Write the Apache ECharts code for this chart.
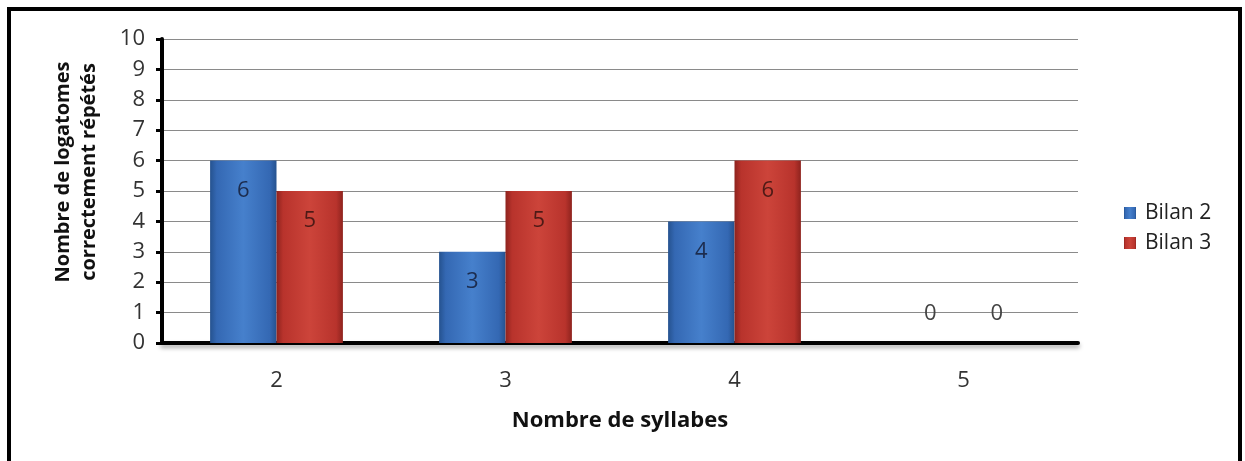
<!DOCTYPE html>
<html>
<head>
<meta charset="utf-8">
<script src="https://cdn.jsdelivr.net/npm/echarts@6/dist/echarts.min.js"></script>
<style>
  html, body { margin: 0; padding: 0; background: #fff; }
  #chart { width: 1245px; height: 461px; }
</style>
</head>
<body>
<div id="chart"></div>
<script>
// données du graphique
var categories = ['2', '3', '4', '5'];
var bilan2 = [6, 3, 4, 0];
var bilan3 = [5, 5, 6, 0];
var seriesNames = ['Bilan 2', 'Bilan 3'];
var yTicks = { min: 0, max: 10, interval: 1 };

var FONT = '"Open Sans", "Noto Sans", sans-serif';

// barre avec un léger effet de biseau
function barColor(dark, mid, light) {
  return new echarts.graphic.LinearGradient(0, 0, 1, 0, [
    { offset: 0, color: dark },
    { offset: 0.1, color: mid },
    { offset: 0.5, color: light },
    { offset: 0.9, color: mid },
    { offset: 1, color: dark }
  ]);
}

// les valeurs nulles ont leur étiquette au-dessus de l'axe
function toData(values) {
  return values.map(function (v) {
    if (v === 0) {
      return { value: v, label: { position: 'top', distance: 18, color: '#444' } };
    }
    return v;
  });
}

var chart = echarts.init(document.getElementById('chart'));

var option = {
  backgroundColor: '#fff',
  animation: false,
  textStyle: { fontFamily: FONT },
  graphic: [{
    type: 'rect',
    shape: { x: 9, y: 9, width: 1231, height: 470 },
    style: { fill: 'none', stroke: '#000', lineWidth: 4 },
    z: 100
  }],
  grid: { left: 162, right: 167, top: 39, bottom: 118 },
  legend: {
    orient: 'vertical',
    left: 1119,
    top: 195,
    itemGap: 4,
    itemWidth: 12,
    itemHeight: 12,
    icon: 'rect',
    textStyle: { fontFamily: FONT, fontSize: 21, color: '#222', lineHeight: 26, padding: [0, 0, 0, 4] },
    data: seriesNames
  },
  xAxis: {
    type: 'category',
    data: categories,
    name: 'Nombre de syllabes',
    nameLocation: 'middle',
    nameGap: 67,
    nameTextStyle: { fontFamily: FONT, fontSize: 22, fontWeight: 'bold', color: '#111' },
    axisLine: {
      lineStyle: { color: '#000', width: 4, shadowColor: 'rgba(0,0,0,0.35)', shadowBlur: 4, shadowOffsetY: 3 }
    },
    axisTick: { show: false },
    axisLabel: { margin: 27, fontSize: 22, color: '#333', fontFamily: FONT }
  },
  yAxis: {
    type: 'value',
    min: yTicks.min,
    max: yTicks.max,
    interval: yTicks.interval,
    name: 'Nombre de logatomes\ncorrectement répétés',
    nameLocation: 'middle',
    nameGap: 60,
    nameTextStyle: {
      fontFamily: FONT, fontSize: 20, fontWeight: 'bold', color: '#111',
      lineHeight: 26, padding: [0, 0, 0, 38]
    },
    axisLine: { show: true, lineStyle: { color: '#000', width: 4 } },
    axisTick: { show: true, length: 6, lineStyle: { color: '#000', width: 3 } },
    axisLabel: { margin: 17, fontSize: 22, color: '#333', fontFamily: FONT },
    splitLine: { lineStyle: { color: '#8a8a8a', width: 1 } }
  },
  series: [
    {
      name: seriesNames[0],
      type: 'bar',
      data: toData(bilan2),
      barGap: '0%',
      barCategoryGap: '42%',
      itemStyle: { color: barColor('#25528f', '#3468b3', '#4680cc') },
      label: {
        show: true,
        position: 'insideTop',
        distance: 19,
        fontSize: 22,
        color: '#1c2c4e',
        fontFamily: FONT
      }
    },
    {
      name: seriesNames[1],
      type: 'bar',
      data: toData(bilan3),
      itemStyle: { color: barColor('#8e231e', '#b8332c', '#cc443a') },
      label: {
        show: true,
        position: 'insideTop',
        distance: 19,
        fontSize: 22,
        color: '#4e1a16',
        fontFamily: FONT
      }
    }
  ]
};

chart.setOption(option);
window.addEventListener('resize', function () {
  chart.resize();
});
</script>
</body>
</html>
